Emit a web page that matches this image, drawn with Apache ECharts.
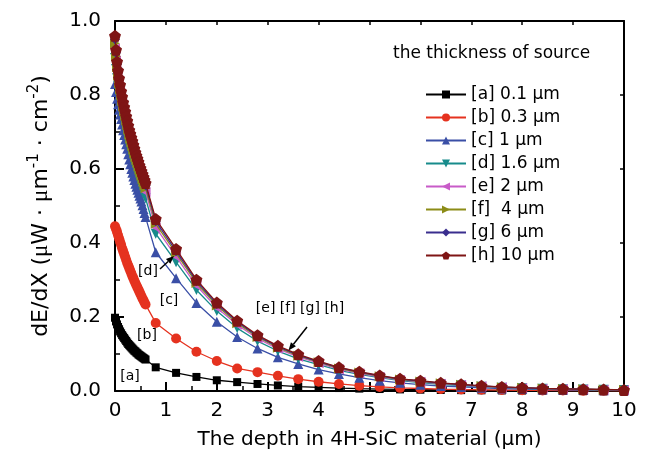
<!DOCTYPE html>
<html>
<head>
<meta charset="utf-8">
<script src="https://cdn.jsdelivr.net/npm/echarts@6/dist/echarts.min.js"></script>
<style>html,body{margin:0;padding:0;background:#fff}#c{width:650px;height:465px}</style>
</head>
<body>
<div id="c"></div>
<script>
// depth (µm)
const depth = [0,0.02,0.04,0.06,0.08,0.1,0.12,0.14,0.16,0.18,0.2,0.22,0.24,0.26,0.28,0.3,
  0.32,0.34,0.36,0.38,0.4,0.42,0.44,0.46,0.48,0.5,0.52,0.54,0.56,0.58,0.6,
  0.8,1.2,1.6,2.0,2.4,2.8,3.2,3.6,4.0,4.4,4.8,5.2,5.6,6.0,6.4,6.8,7.2,7.6,8.0,8.4,8.8,9.2,9.6,10.0];

const seriesNames = ['[a] 0.1 \u03bcm','[b] 0.3 \u03bcm','[c] 1 \u03bcm','[d] 1.6 \u03bcm','[e] 2 \u03bcm','[f]  4 \u03bcm','[g] 6 \u03bcm','[h] 10 \u03bcm'];

const yA = [0.198,0.188,0.18,0.173,0.167,0.161,0.156,0.151,0.147,0.143,0.139,0.135,0.131,0.127,0.124,0.121,
  0.118,0.115,0.112,0.109,0.107,0.104,0.102,0.099,0.097,0.095,0.093,0.091,0.089,0.087,0.085,
  0.064,0.049,0.038,0.029,0.024,0.019,0.015,0.012,0.010,0.008,0.0065,0.0053,0.0043,0.0035,0.0028,0.0023,0.0019,0.0015,0.0012,0.001,0.0008,0.0007,0.0005,0.0004];
const yB = [0.445,0.438,0.43,0.421,0.412,0.403,0.395,0.386,0.378,0.37,0.362,0.354,0.346,0.339,0.332,0.325,
  0.318,0.311,0.305,0.298,0.292,0.286,0.28,0.274,0.268,0.262,0.256,0.25,0.245,0.239,0.234,
  0.184,0.142,0.106,0.081,0.061,0.051,0.041,0.032,0.025,0.019,0.0145,0.011,0.0085,0.0067,0.0052,0.004,0.0032,0.0025,0.002,0.0016,0.0013,0.001,0.0008,0.0006];
const yC = [0.83,0.808,0.79,0.775,0.76,0.747,0.735,0.72,0.705,0.692,0.68,0.667,0.655,0.64,0.626,0.613,
  0.60,0.59,0.58,0.57,0.56,0.552,0.544,0.536,0.528,0.52,0.512,0.502,0.492,0.481,0.47,
  0.375,0.305,0.238,0.187,0.146,0.115,0.091,0.073,0.058,0.046,0.036,0.028,0.022,0.017,0.0135,0.011,0.0085,0.0068,0.0054,0.0043,0.0034,0.0027,0.0022,0.0017];
const yD = [0.90,0.87,0.845,0.825,0.807,0.791,0.776,0.761,0.746,0.733,0.721,0.708,0.696,0.682,0.669,0.658,
  0.647,0.637,0.627,0.617,0.607,0.599,0.591,0.582,0.574,0.566,0.558,0.548,0.538,0.53,0.521,
  0.425,0.348,0.273,0.216,0.170,0.135,0.108,0.087,0.071,0.056,0.045,0.036,0.028,0.023,0.018,0.0149,0.0115,0.0091,0.0074,0.0058,0.0048,0.004,0.0032,0.0024];
const yE = [0.926,0.893,0.864,0.842,0.823,0.807,0.791,0.776,0.761,0.748,0.736,0.723,0.711,0.697,0.684,0.673,
  0.663,0.653,0.643,0.633,0.623,0.614,0.606,0.597,0.589,0.581,0.573,0.564,0.555,0.546,0.538,
  0.442,0.363,0.285,0.225,0.179,0.142,0.114,0.092,0.075,0.059,0.048,0.038,0.030,0.025,0.0198,0.0162,0.0126,0.0099,0.0081,0.0063,0.0053,0.0044,0.0035,0.0027];
const yF = [0.94,0.905,0.875,0.852,0.832,0.815,0.799,0.784,0.769,0.756,0.744,0.731,0.719,0.706,0.693,0.682,
  0.672,0.662,0.652,0.642,0.632,0.624,0.616,0.607,0.598,0.59,0.582,0.573,0.565,0.556,0.548,
  0.452,0.372,0.292,0.231,0.183,0.146,0.117,0.095,0.078,0.061,0.050,0.040,0.031,0.026,0.0207,0.017,0.0132,0.0104,0.0085,0.0066,0.0056,0.0047,0.0037,0.0028];
const yG = [0.951,0.914,0.883,0.86,0.839,0.822,0.805,0.79,0.775,0.762,0.75,0.737,0.725,0.712,0.699,0.689,
  0.679,0.669,0.659,0.649,0.639,0.63,0.622,0.613,0.604,0.596,0.588,0.58,0.572,0.564,0.556,
  0.459,0.378,0.297,0.235,0.187,0.148,0.12,0.097,0.079,0.063,0.051,0.041,0.032,0.027,0.0214,0.0175,0.0136,0.0107,0.0087,0.0068,0.0058,0.0048,0.0039,0.0029];
const yH = [0.96,0.922,0.89,0.866,0.845,0.827,0.81,0.795,0.78,0.767,0.755,0.742,0.73,0.717,0.705,0.695,
  0.685,0.675,0.665,0.655,0.645,0.636,0.628,0.619,0.61,0.602,0.594,0.586,0.578,0.57,0.562,
  0.465,0.384,0.301,0.239,0.19,0.151,0.122,0.099,0.081,0.064,0.052,0.042,0.033,0.028,0.022,0.018,0.014,0.011,0.009,0.007,0.006,0.005,0.004,0.003];

const xTicks = [0,1,2,3,4,5,6,7,8,9,10];
const yTicks = [0.0,0.2,0.4,0.6,0.8,1.0];

const allY = [yA,yB,yC,yD,yE,yF,yG,yH];
const colors = ['#000000','#e5321f','#3a4fa6','#178b8b','#c85bc8','#8c8c17','#3a2e8e','#7f1515'];
const pentagon = 'path://M0,-1 L0.951,-0.309 L0.588,0.809 L-0.588,0.809 L-0.951,-0.309 Z';
const symbols = ['rect','circle','triangle','triangle','triangle','triangle','diamond',pentagon];
const rotations = [0,0,0,180,90,-90,0,0];
const sizes = [8,10,10,10,10,10,10,12];

const FONT = 'DejaVu Sans, Liberation Sans, sans-serif';

const series = allY.map((ys, i) => ({
  name: seriesNames[i],
  type: 'line',
  data: depth.map((x, j) => [x, ys[j]]),
  symbol: symbols[i],
  symbolSize: sizes[i],
  symbolRotate: rotations[i],
  showAllSymbol: true,
  lineStyle: { color: colors[i], width: 1.3 },
  itemStyle: { color: colors[i] },
  z: 2 + i,
  animation: false
}));

function arrow(x1, y1, x2, y2) {
  const dx = x2 - x1, dy = y2 - y1, L = Math.hypot(dx, dy);
  const ux = dx / L, uy = dy / L, px = -uy, py = ux;
  const hl = 8, hw = 3.2;
  const bx = x2 - ux * hl, by = y2 - uy * hl;
  return [
    { type: 'line', shape: { x1, y1, x2: bx, y2: by }, style: { stroke: '#000', lineWidth: 1.5 } },
    { type: 'polygon', shape: { points: [[x2, y2], [bx + px * hw, by + py * hw], [bx - px * hw, by - py * hw]] }, style: { fill: '#000' } }
  ];
}

const annStyle = { fontSize: 14, fontFamily: FONT, fill: '#000' };
const chart = echarts.init(document.getElementById('c'), null, { renderer: 'canvas' });
chart.setOption({
  animation: false,
  backgroundColor: '#fff',
  title: {
    text: 'the thickness of source',
    left: 388, top: 40,
    textStyle: { fontSize: 17, fontWeight: 'normal', fontFamily: FONT, color: '#000' }
  },
  legend: {
    orient: 'vertical',
    left: 420, top: 81,
    itemWidth: 40, itemHeight: 10, itemGap: 6,
    textStyle: { fontSize: 17, fontFamily: FONT, color: '#000' },
    data: seriesNames
  },
  grid: { left: 115, right: 26, top: 21, bottom: 74 },
  xAxis: [{
    type: 'value', min: 0, max: 10, interval: 1,
    name: 'The depth in 4H-SiC material (\u03bcm)',
    nameLocation: 'middle', nameGap: 39,
    nameTextStyle: { fontSize: 20, fontFamily: FONT, color: '#000' },
    axisLine: { onZero: false, lineStyle: { color: '#000', width: 2 } },
    axisTick: { inside: true, length: 9, lineStyle: { color: '#000', width: 2 } },
    minorTick: { show: true, splitNumber: 2, length: 5, lineStyle: { color: '#000', width: 1.5 } },
    axisLabel: { fontSize: 20, fontFamily: FONT, color: '#000', margin: 10,
      formatter: v => xTicks.includes(v) ? String(v) : '' },
    splitLine: { show: false }
  }, {
    type: 'value', position: 'top', min: 0, max: 10, interval: 1,
    axisLine: { onZero: false, lineStyle: { color: '#000', width: 2 } },
    axisTick: { inside: true, length: 4, lineStyle: { color: '#000', width: 1.5 } },
    axisLabel: { show: false }, splitLine: { show: false }
  }],
  yAxis: [{
    type: 'value', min: 0, max: 1, interval: 0.2,
    name: '{t|dE/dX (}{mu|\u03bc}{t|W \u00b7 }{mu|\u03bc}{t|m}{s|-1}{t| \u00b7 cm}{s|-2}{t|)}',
    nameLocation: 'middle', nameGap: 60, nameRotate: 90,
    nameTextStyle: {
      rich: {
        t: { fontSize: 22, fontFamily: FONT, color: '#000', lineHeight: 28 },
        mu: { fontSize: 23, fontFamily: 'Liberation Serif, DejaVu Serif, serif', color: '#000', lineHeight: 28 },
        s: { fontSize: 15, fontFamily: FONT, color: '#000', verticalAlign: 'top', lineHeight: 15 }
      }
    },
    axisLine: { onZero: false, lineStyle: { color: '#000', width: 2 } },
    axisTick: { inside: true, length: 9, lineStyle: { color: '#000', width: 2 } },
    minorTick: { show: true, splitNumber: 2, length: 5, lineStyle: { color: '#000', width: 1.5 } },
    axisLabel: { fontSize: 20, fontFamily: FONT, color: '#000', margin: 14,
      formatter: v => v.toFixed(1) },
    splitLine: { show: false }
  }, {
    type: 'value', position: 'right', min: 0, max: 1, interval: 0.2,
    axisLine: { onZero: false, lineStyle: { color: '#000', width: 2 } },
    axisTick: { inside: true, length: 4, lineStyle: { color: '#000', width: 1.5 } },
    axisLabel: { show: false }, splitLine: { show: false }
  }],
  graphic: [
    { type: 'text', x: 148, y: 271, style: Object.assign({ text: '[d]', align: 'center', verticalAlign: 'middle' }, annStyle), z: 50 },
    { type: 'text', x: 169, y: 300, style: Object.assign({ text: '[c]', align: 'center', verticalAlign: 'middle' }, annStyle), z: 50 },
    { type: 'text', x: 147, y: 335, style: Object.assign({ text: '[b]', align: 'center', verticalAlign: 'middle' }, annStyle), z: 50 },
    { type: 'text', x: 130, y: 376, style: Object.assign({ text: '[a]', align: 'center', verticalAlign: 'middle' }, annStyle), z: 50 },
    { type: 'text', x: 300, y: 308, style: Object.assign({ text: '[e] [f] [g] [h]', align: 'center', verticalAlign: 'middle' }, annStyle), z: 50 },
    ...arrow(160, 269, 174, 256).map(g => Object.assign(g, { z: 50 })),
    ...arrow(307, 327, 288.5, 350.5).map(g => Object.assign(g, { z: 50 }))
  ],
  series
});
</script>
</body>
</html>
